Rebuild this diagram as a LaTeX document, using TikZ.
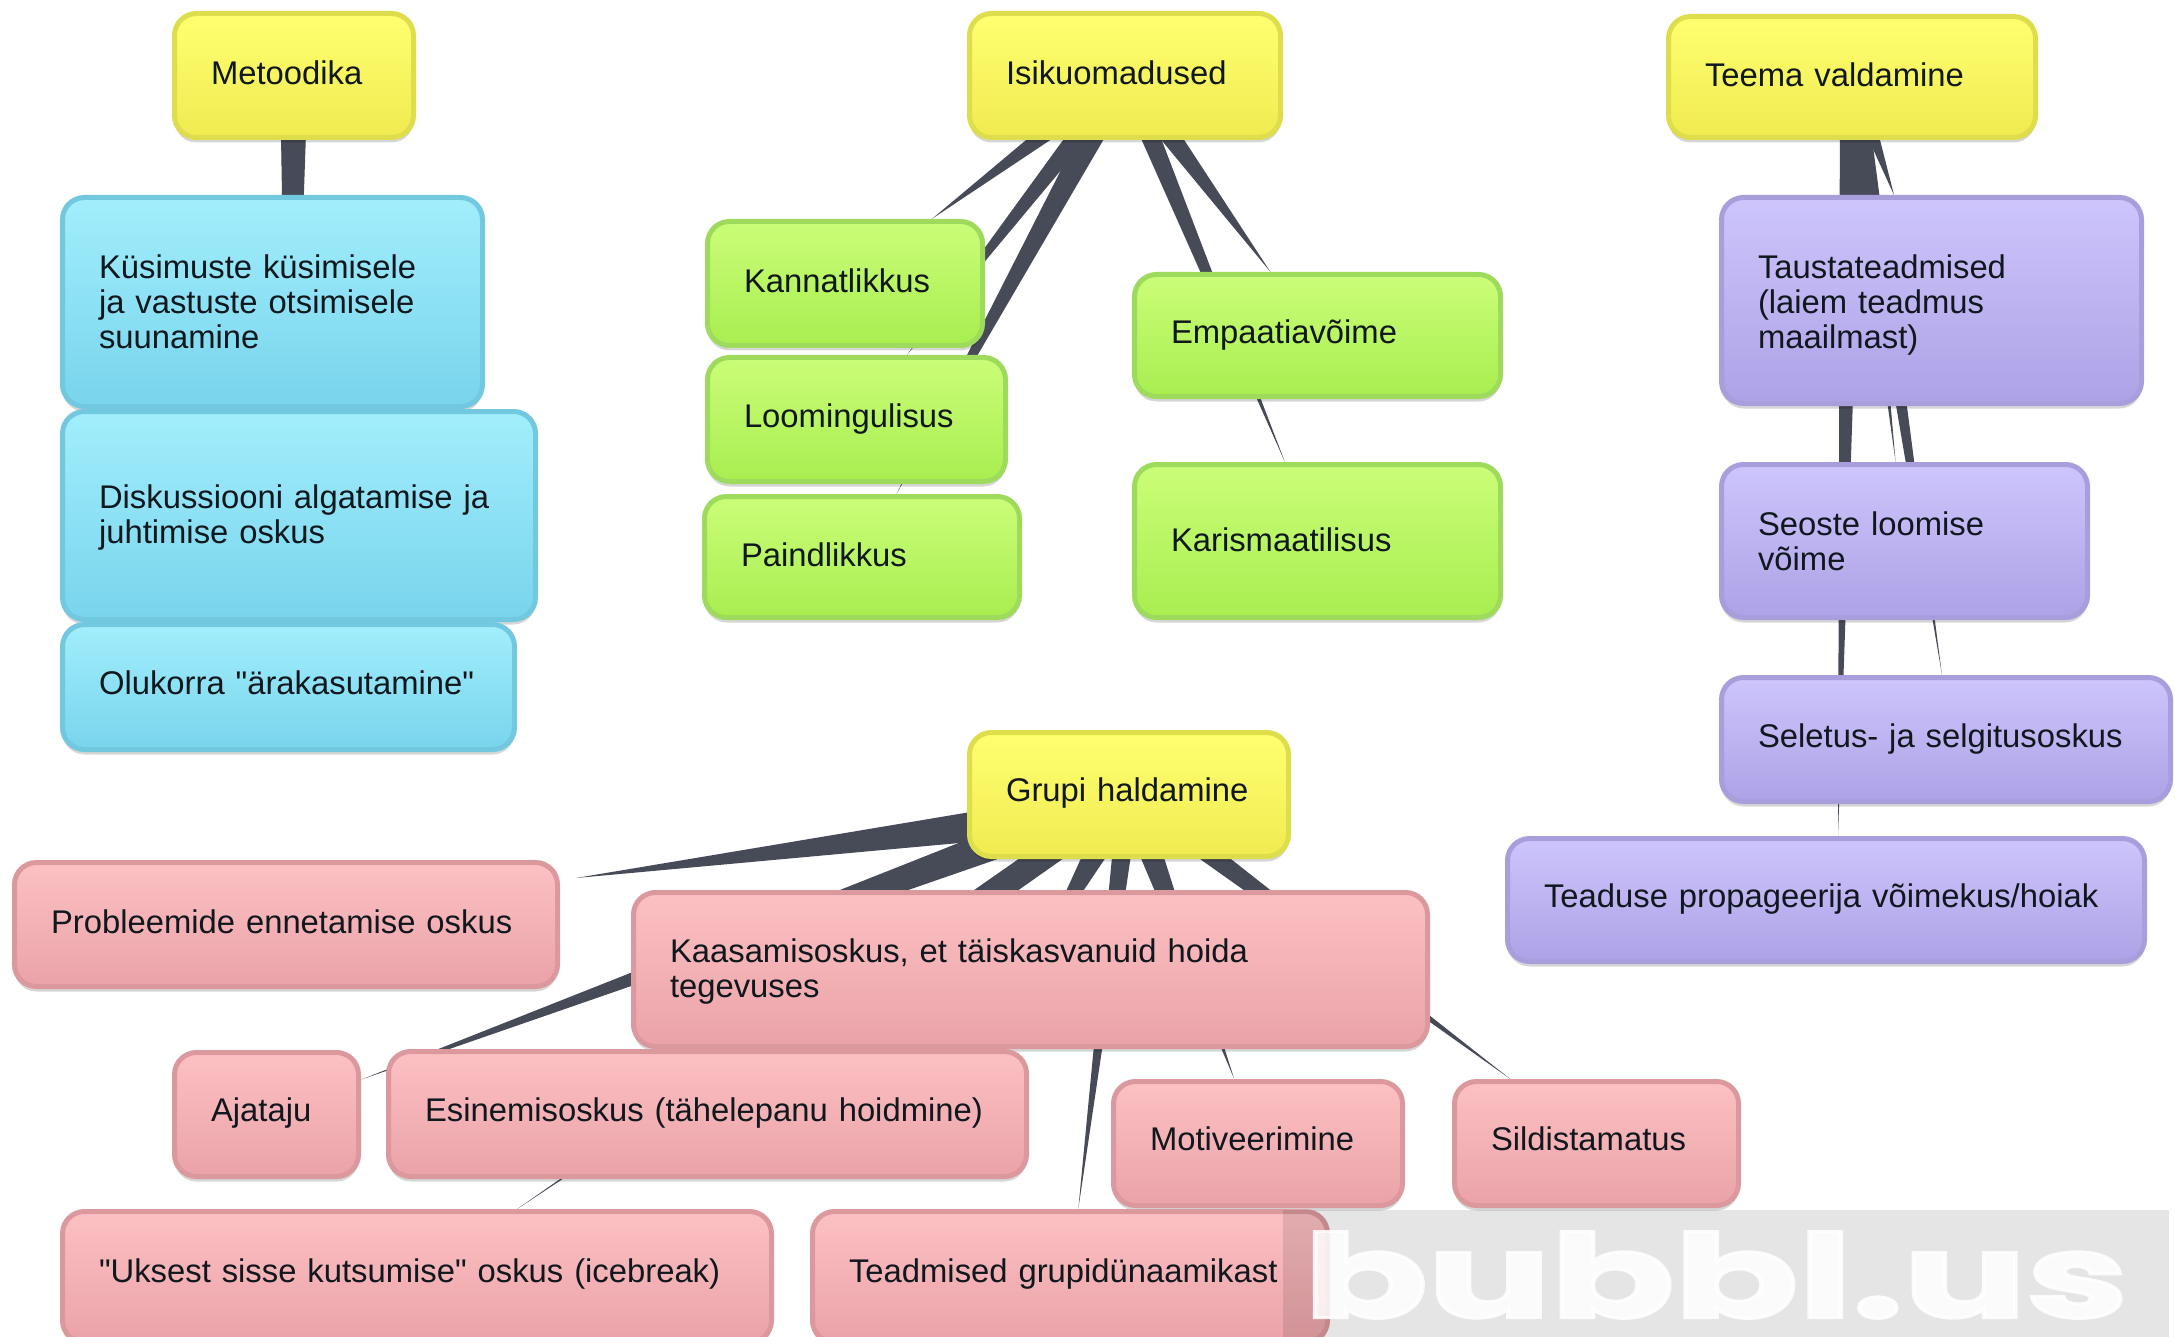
\documentclass[tikz,border=0pt]{standalone}
\usepackage{fontspec}
\usepackage{graphicx}
\setmainfont{Liberation Sans}[Ligatures=TeXOff]
\newfontfamily\markfont{Poppins}[UprightFont=* Bold,FakeBold=2.5]
\usetikzlibrary{calc,backgrounds,shadows}
\definecolor{conn}{HTML}{474B57}
\definecolor{inkc}{HTML}{10181E}
\tikzset{
  bubble/.style={rectangle,rounded corners=11pt,line width=2.5pt,inner xsep=18.25pt,inner ysep=0pt,
    align=left,text=inkc,font=\fontsize{16.4}{17.5}\selectfont,
    drop shadow={shadow xshift=0pt,shadow yshift=-2.5pt,opacity=.16,fill=black}},
  yel/.style={draw=yelb,top color=yelt,bottom color=yeld},
  blu/.style={draw=blub,top color=blut,bottom color=blud},
  gre/.style={draw=greb,top color=gret,bottom color=gred},
  pur/.style={draw=purb,top color=purt,bottom color=purd},
  pin/.style={draw=pinb,top color=pint,bottom color=pind},
  taperfill/.style={fill=conn,draw=none},
}
\definecolor{yelb}{HTML}{DEDD4C}\definecolor{yelt}{HTML}{FFFF70}\definecolor{yeld}{HTML}{EFEB50}
\definecolor{blub}{HTML}{72C8DF}\definecolor{blut}{HTML}{A2EEFC}\definecolor{blud}{HTML}{78D4EC}
\definecolor{greb}{HTML}{9EDB5C}\definecolor{gret}{HTML}{CBFD78}\definecolor{gred}{HTML}{A8EE50}
\definecolor{purb}{HTML}{A99EDC}\definecolor{purt}{HTML}{CDC5FC}\definecolor{purd}{HTML}{ADA2E6}
\definecolor{pinb}{HTML}{DB999E}\definecolor{pint}{HTML}{FCC0C3}\definecolor{pind}{HTML}{EAA3A8}
% one-line strut with given depth: raises the text in its box
\newcommand{\stt}[1]{\rule[\dimexpr 1.2pt-#1pt\relax]{0pt}{12pt}}
% first-line strut with given height: lowers a multi-line text in its box
\newcommand{\hgh}[1]{\rule{0pt}{#1pt}}
% name x1 y1 x2 y2 style text
\newcommand{\bub}[7]{%
  \pgfmathsetlengthmacro\bubW{(#4-#2-5)*0.5pt}%
  \pgfmathsetlengthmacro\bubH{(#5-#3-5)*0.5pt}%
  \pgfmathsetlengthmacro\bubT{\bubW-36.5pt}%
  \node[bubble,#6,minimum width=\bubW,minimum height=\bubH,text width=\bubT] (#1) at ({(#2+#4)/2},{(#3+#5)/2}) {#7};%
}
% from-node, to-node, half base vector
\newcommand{\taper}[4]{%
  \path (#1.center) -- node[coordinate,pos=1] (tp) {} (#2);%
  \fill[taperfill] ($(#1.center)+(#3,#4)$) -- ($(#1.center)-(#3,#4)$) -- (tp) -- cycle;%
}
\newcommand{\tapertip}[4]{%
  \fill[taperfill] ($(#1.center)+(#3,#4)$) -- ($(#1.center)-(#3,#4)$) -- #2 -- cycle;%
}
\begin{document}
\begin{tikzpicture}[x=0.5pt,y=-0.5pt]
\useasboundingbox (0,0) rectangle (2175,1337);
% roots
\bub{metoodika}{172}{11}{416}{140}{yel}{Metoodika\stt{4.5}}
\bub{isiku}{967}{11}{1283}{140}{yel}{Isikuomadused\stt{4.5}}
\bub{teema}{1666}{14}{2038}{140}{yel}{Teema valdamine\stt{3.1}}
\bub{grupi}{967}{730}{1291}{859}{yel}{Grupi haldamine\stt{5.6}}
% blue
\bub{kysimus}{60}{195}{485}{409}{blu}{Küsimuste küsimisele\\ja vastuste otsimisele\\suunamine}
\bub{diskus}{60}{409}{538}{622}{blu}{\hgh{13.5}Diskussiooni algatamise ja\\juhtimise oskus}
\bub{olukord}{60}{622}{517}{752}{blu}{Olukorra "ärakasutamine"\stt{5.9}}
% green
\bub{kannat}{705}{219}{985}{348}{gre}{Kannatlikkus\stt{4.5}}
\bub{loomin}{705}{355}{1008}{484}{gre}{Loomingulisus\stt{4.5}}
\bub{paind}{702}{494}{1022}{620}{gre}{Paindlikkus\stt{3.1}}
\bub{empaat}{1132}{272}{1503}{399}{gre}{Empaatiavõime\stt{3.8}}
\bub{karism}{1132}{462}{1503}{620}{gre}{Karismaatilisus\stt{2.4}}
% purple
\bub{taust}{1719}{195}{2144}{406}{pur}{\hgh{16.3}Taustateadmised\\(laiem teadmus\\maailmast)}
\bub{seoste}{1719}{462}{2090}{620}{pur}{Seoste loomise\\võime}
\bub{seletus}{1719}{675}{2173}{804}{pur}{Seletus- ja selgitusoskus\stt{4.5}}
\bub{teaduse}{1505}{836}{2147}{964}{pur}{Teaduse propageerija võimekus/hoiak\stt{5.2}}
% pink
\bub{probl}{12}{860}{560}{989}{pin}{Probleemide ennetamise oskus\stt{4.5}}
\bub{kaasam}{631}{890}{1430}{1049}{pin}{\hgh{13.5}Kaasamisoskus, et täiskasvanuid hoida\\tegevuses}
\bub{ajataju}{172}{1050}{361}{1179}{pin}{Ajataju\stt{5.9}}
\bub{esinem}{386}{1049}{1029}{1179}{pin}{Esinemisoskus (tähelepanu hoidmine)\stt{5.9}}
\bub{motiv}{1111}{1079}{1405}{1208}{pin}{Motiveerimine\stt{5.9}}
\bub{sildis}{1452}{1079}{1741}{1208}{pin}{Sildistamatus\stt{5.9}}
\bub{uksest}{60}{1209}{774}{1345}{pin}{"Uksest sisse kutsumise" oskus (icebreak)\stt{7.4}}
\bub{teadmis}{810}{1209}{1330}{1345}{pin}{Teadmised grupidünaamikast\stt{7.4}}
% connectors
\begin{scope}[on background layer]
\fill[white] (0,0) rectangle (2175,1337);
\taper{metoodika}{kysimus}{14}{0}
\taper{metoodika}{diskus}{12}{0}
\taper{metoodika}{olukord}{14}{0}
\taper{isiku}{kannat}{22}{0}
\taper{isiku}{loomin}{15}{0}
\taper{isiku}{paind}{16}{0}
\taper{isiku}{empaat}{17}{0}
\taper{isiku}{karism}{12}{0}
\taper{teema}{taust}{12}{0}
\taper{teema}{seoste}{10}{0}
\tapertip{teema}{($(seletus.north)+(-4,0)$)}{12}{0}
\tapertip{teema}{($(teaduse.north)+(12,0)$)}{12}{0}
\fill[taperfill] ($(grupi.center)+(0,33)$) -- ($(grupi.center)+(0,-9)$) -- ($(probl.north east)+(16,18)$) -- cycle;
\tapertip{grupi}{(kaasam.center)}{19}{0}
\taper{grupi}{ajataju}{0}{19}
\taper{grupi}{esinem}{25}{0}
\taper{grupi}{uksest}{18}{0}
\taper{grupi}{teadmis}{11}{0}
\taper{grupi}{motiv}{15}{0}
\taper{grupi}{sildis}{20}{0}
\end{scope}
% watermark
\node[fill=black,fill opacity=.1,minimum width=443pt,minimum height=64pt,inner sep=0pt,anchor=north west] (wmbox) at (1283,1210) {};
\node[text=white,text opacity=.85,inner sep=0pt,anchor=center] (wmtext) at (1716,1275) {\resizebox{412pt}{43pt}{\markfont bubbl.us}};
\end{tikzpicture}
\end{document}
